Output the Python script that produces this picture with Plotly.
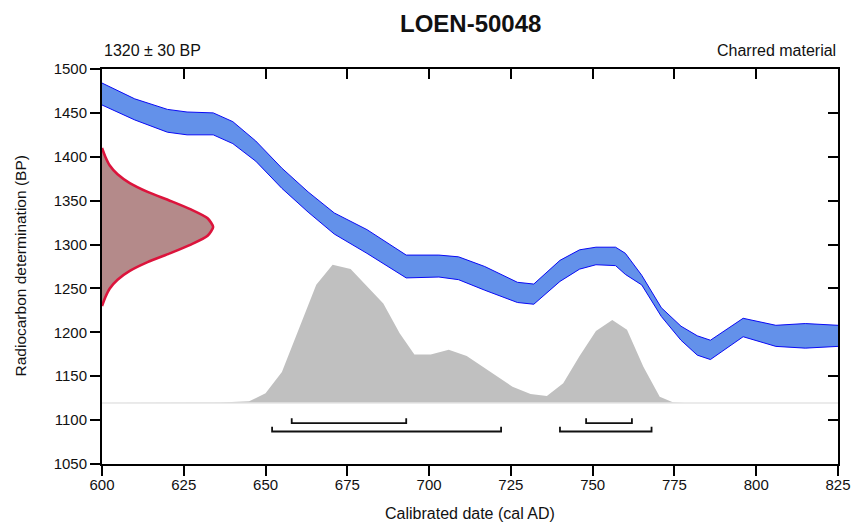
import plotly.graph_objects as go

# ---------------- data ----------------
# calibration curve band (cal AD vs BP)
cal_x = [600, 610, 620, 626, 634, 640, 647, 655, 663, 671, 681, 693, 703, 709, 717,
         727, 732, 740, 746, 751, 757, 760, 765, 771, 777, 782, 786, 796, 806, 815, 825]
cal_upper = [1484, 1466, 1454, 1451, 1450, 1440, 1418, 1387, 1360, 1336, 1317, 1288, 1288, 1286, 1275,
             1257, 1255, 1282, 1294, 1297, 1297, 1290, 1265, 1228, 1207, 1196, 1191, 1216, 1208, 1210, 1208]
cal_lower = [1459, 1442, 1428, 1425, 1425, 1415, 1395, 1364, 1337, 1312, 1290, 1262, 1263, 1260, 1248,
             1234, 1232, 1258, 1272, 1277, 1276, 1266, 1254, 1218, 1191, 1174, 1169, 1195, 1184, 1182, 1184]

# radiocarbon measurement distribution (BP vs relative density)
meas_bp = [1410, 1400, 1390, 1380, 1370, 1360, 1350, 1340, 1330, 1320,
           1310, 1300, 1290, 1280, 1270, 1260, 1250, 1240, 1230]
meas_dens = [0.0, 0.03, 0.07, 0.14, 0.25, 0.41, 0.61, 0.80, 0.95, 1.0,
             0.95, 0.80, 0.61, 0.41, 0.25, 0.14, 0.07, 0.03, 0.0]

# calibrated probability (cal AD vs relative probability)
prob_x = [600, 620, 636, 645, 650, 655, 660.5, 665.5, 670.5, 676, 681, 686, 691, 695.5, 700.5,
          706, 711.5, 718, 725.5, 731, 736, 741, 746, 751, 756, 760.5, 765.5, 770.5, 774.5, 778, 825]
prob = [0, 0, 0.003, 0.012, 0.07, 0.225, 0.55, 0.855, 1.0, 0.97, 0.845, 0.72, 0.505, 0.35, 0.35,
        0.385, 0.34, 0.235, 0.117, 0.065, 0.05, 0.143, 0.34, 0.52, 0.60, 0.53, 0.263, 0.046, 0.005, 0, 0]

# highest probability density ranges
range_68 = [(658, 693), (748, 762)]
range_95 = [(652, 722), (740, 768)]

x_ticks = [600, 625, 650, 675, 700, 725, 750, 775, 800, 825]
y_ticks = [1050, 1100, 1150, 1200, 1250, 1300, 1350, 1400, 1450, 1500]

# ---------------- layout constants ----------------
X_RANGE = [600, 825]
Y_RANGE = [1050, 1500]
PROB_BASE_BP = 1119.5     # where the probability baseline sits
PROB_PEAK_BP = 1277.0     # where the probability peak reaches
MEAS_PEAK_FRAC = 0.151    # fraction of plot width used by the measurement curve peak
LEVEL_68 = 1096.5
LEVEL_95 = 1087.0
BRACKET_TICK = 5.5

FONT = "Liberation Sans, Arial, sans-serif"
W, H = 856, 522
ML, MR, MT, MB = 102, 18, 69, 58

span = PROB_PEAK_BP - PROB_BASE_BP
y3_range = [-(PROB_BASE_BP - Y_RANGE[0]) / span, (Y_RANGE[1] - PROB_BASE_BP) / span]
x3_range = [0, 1.0 / MEAS_PEAK_FRAC]

fig = go.Figure()

# probability distribution (grey)
fig.add_trace(go.Scatter(x=prob_x, y=prob, xaxis="x", yaxis="y3", mode="lines",
                         line=dict(width=0, color="#C0C0C0"), fill="tozeroy",
                         fillcolor="#C0C0C0", hoverinfo="skip", showlegend=False))
fig.add_trace(go.Scatter(x=[prob_x[0], prob_x[-1]], y=[0, 0], xaxis="x", yaxis="y3", mode="lines",
                         line=dict(width=1.5, color="#E4E4E4"), hoverinfo="skip", showlegend=False))

# calibration band
fig.add_trace(go.Scatter(x=cal_x, y=cal_lower, mode="lines",
                         line=dict(color="#0A0AF5", width=1),
                         hoverinfo="skip", showlegend=False))
fig.add_trace(go.Scatter(x=cal_x, y=cal_upper, mode="lines", fill="tonexty",
                         fillcolor="#6391EA", line=dict(color="#0A0AF5", width=1),
                         hoverinfo="skip", showlegend=False))

# measurement distribution (red)
fig.add_trace(go.Scatter(x=meas_dens, y=meas_bp, xaxis="x3", yaxis="y", mode="lines",
                         line=dict(color="#DC143C", width=2.6, shape="spline", smoothing=0.6),
                         fill="toself", fillcolor="#B48A8A", cliponaxis=False,
                         hoverinfo="skip", showlegend=False))

# range brackets
for lvl, ranges in ((LEVEL_68, range_68), (LEVEL_95, range_95)):
    for a, b in ranges:
        fig.add_trace(go.Scatter(x=[a, a, b, b],
                                 y=[lvl + BRACKET_TICK, lvl, lvl, lvl + BRACKET_TICK],
                                 mode="lines", line=dict(color="#111111", width=1.8),
                                 hoverinfo="skip", showlegend=False))

axis_common = dict(showgrid=False, zeroline=False, showline=True, linecolor="#000000",
                   linewidth=2, tickcolor="#000000", tickwidth=2, ticklen=10, automargin=False)

fig.update_layout(
    width=W, height=H,
    margin=dict(l=ML, r=MR, t=MT, b=MB, pad=0, autoexpand=False),
    paper_bgcolor="white", plot_bgcolor="white",
    font=dict(family=FONT, size=15, color="#111111"),
    xaxis=dict(range=X_RANGE, tickvals=x_ticks, ticks="outside", ticklabelstandoff=-4,
               tickfont=dict(family=FONT, size=15), layer="below traces", **axis_common),
    xaxis2=dict(range=X_RANGE, tickvals=x_ticks, overlaying="x", side="top", ticks="inside",
                showticklabels=False, layer="below traces", **axis_common),
    xaxis3=dict(range=x3_range, overlaying="x", visible=False),
    yaxis=dict(range=Y_RANGE, tickvals=y_ticks, ticks="outside",
               tickfont=dict(family=FONT, size=15), layer="below traces", **axis_common),
    yaxis2=dict(range=Y_RANGE, tickvals=y_ticks, overlaying="y", side="right", ticks="inside",
                showticklabels=False, layer="below traces", **axis_common),
    yaxis3=dict(range=y3_range, overlaying="y", visible=False),
)

# dummy trace to register the mirrored axes
fig.add_trace(go.Scatter(x=[None], y=[None], xaxis="x2", yaxis="y2", mode="lines",
                         hoverinfo="skip", showlegend=False))

fig.add_annotation(text="<b>LOEN-50048</b>", xref="paper", yref="paper", x=0.5, y=1,
                   yshift=45.5, xanchor="center", yanchor="middle", showarrow=False,
                   font=dict(family=FONT, size=24, color="#111111"))
fig.add_annotation(text="1320 ± 30 BP", xref="paper", yref="paper", x=0, y=1, yshift=19,
                   xanchor="left", yanchor="middle", showarrow=False,
                   font=dict(family=FONT, size=16, color="#111111"))
fig.add_annotation(text="Charred material", xref="paper", yref="paper", x=1, y=1, yshift=19,
                   xanchor="right", yanchor="middle", showarrow=False,
                   font=dict(family=FONT, size=16, color="#111111"))
fig.add_annotation(text="Calibrated date (cal AD)", xref="paper", yref="paper", x=0.5, y=0,
                   yshift=-49, xanchor="center", yanchor="middle", showarrow=False,
                   font=dict(family=FONT, size=16, color="#111111"))
fig.add_annotation(text="Radiocarbon determination (BP)", xref="paper", yref="paper", x=0, y=0.5,
                   xshift=-82, xanchor="center", yanchor="middle", textangle=-90, showarrow=False,
                   font=dict(family=FONT, size=15.5, color="#111111"))

fig.write_html("out.html")
